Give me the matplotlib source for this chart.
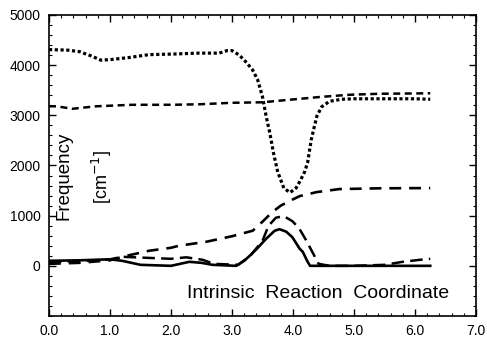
import matplotlib
matplotlib.use("Agg", force=True)
import matplotlib.pyplot as plt
from matplotlib.ticker import MultipleLocator

# --- data (reaction coordinate vs. frequency in cm^-1) ---
top_x = [0.0, 0.3, 0.5, 0.7, 0.85, 1.0, 1.3, 1.64, 2.0, 2.46, 2.79, 2.92, 3.0, 3.12,
         3.24, 3.34, 3.42, 3.5, 3.56, 3.62, 3.68, 3.75, 3.85, 3.95, 4.05, 4.12, 4.19,
         4.24, 4.30, 4.39, 4.47, 4.60, 4.80, 5.0, 5.5, 6.0, 6.25]
top_y = [4310, 4300, 4270, 4180, 4100, 4110, 4150, 4210, 4220, 4240, 4240, 4290, 4290, 4200,
         4050, 3900, 3710, 3370, 2980, 2650, 2250, 1870, 1550, 1460, 1550, 1700, 1870,
         2060, 2520, 2980, 3170, 3280, 3320, 3330, 3330, 3330, 3320]

upper_x = [0.0, 0.13, 0.38, 0.77, 1.36, 2.0, 2.46, 3.0, 3.5, 3.94, 4.48, 4.93, 5.42, 5.9, 6.25]
upper_y = [3180, 3180, 3130, 3180, 3210, 3210, 3220, 3250, 3260, 3310, 3370, 3410, 3430, 3435, 3440]

mid_x = [0.0, 0.5, 1.0, 1.2, 1.64, 2.0, 2.13, 2.58, 3.0, 3.34, 3.5, 3.66, 3.8, 3.94,
         4.11, 4.39, 4.76, 5.4, 6.25]
mid_y = [40, 60, 110, 180, 300, 360, 400, 480, 590, 700, 880, 1070, 1200, 1290,
         1390, 1470, 1530, 1545, 1550]

low_x = [0.0, 0.5, 1.0, 1.2, 1.6, 2.0, 2.25, 2.52, 2.7, 3.1, 3.3, 3.5, 3.6, 3.72, 3.85,
         3.99, 4.1, 4.22, 4.35, 4.42, 4.6, 5.0, 5.5, 5.8, 6.08, 6.25]
low_y = [80, 90, 130, 180, 160, 140, 170, 120, 40, 20, 200, 500, 800, 960, 990,
         890, 750, 500, 200, 40, 0, 0, 20, 80, 120, 140]

solid_x = [0.0, 0.5, 1.0, 1.2, 1.5, 2.0, 2.3, 2.5, 2.68, 3.07, 3.2, 3.29, 3.4, 3.56,
           3.7, 3.78, 3.89, 3.99, 4.11, 4.16, 4.24, 4.28, 5.0, 6.25]
solid_y = [100, 110, 130, 100, 20, 0, 80, 60, 20, 0, 100, 200, 330, 540,
           700, 730, 680, 570, 340, 280, 80, 0, 0, 0]

x_ticks = [0, 1, 2, 3, 4, 5, 6, 7]
x_tick_labels = ["0.0", "1.0", "2.0", "3.0", "4.0", "5.0", "6.0", "7.0"]
y_ticks = [0, 1000, 2000, 3000, 4000, 5000]

plt.rcParams["font.family"] = ["Liberation Sans", "DejaVu Sans"]

fig = plt.figure(figsize=(4.87, 3.40), dpi=100)
ax = fig.add_axes([0.1006, 0.0706, 0.8768, 0.8853])

ax.plot(top_x, top_y, color="black", lw=2.3, dashes=(1.0, 0.8), dash_capstyle="butt")
ax.plot(upper_x, upper_y, color="black", lw=1.8, dashes=(2.8, 1.8))
ax.plot(mid_x, mid_y, color="black", lw=1.9, dashes=(4.5, 3.0))
ax.plot(low_x, low_y, color="black", lw=1.8, dashes=(5.0, 2.5))
ax.plot(solid_x, solid_y, color="black", lw=1.9)

ax.set_xlim(0, 7)
ax.set_ylim(-1000, 5000)
ax.set_xticks(x_ticks)
ax.set_xticklabels(x_tick_labels)
ax.set_yticks(y_ticks)
ax.xaxis.set_minor_locator(MultipleLocator(0.2))
ax.yaxis.set_minor_locator(MultipleLocator(200))
ax.tick_params(which="both", direction="in", top=True, right=True, labelsize=10)
ax.tick_params(which="major", length=5, width=1.0, pad=6)
ax.tick_params(which="minor", length=2.5, width=0.8)
for sp in ax.spines.values():
    sp.set_linewidth(1.2)

ax.text(0.25, 1786, "Frequency", rotation=90, ha="center", va="center", fontsize=13.5)
ax.text(0.87, 1766, "[cm$^{-1}$]", rotation=90, ha="center", va="center", fontsize=13)
ax.text(2.27, -640, "Intrinsic  Reaction  Coordinate", ha="left", va="baseline", fontsize=14)

fig.savefig("out.png", dpi=100)
plt.close(fig)
